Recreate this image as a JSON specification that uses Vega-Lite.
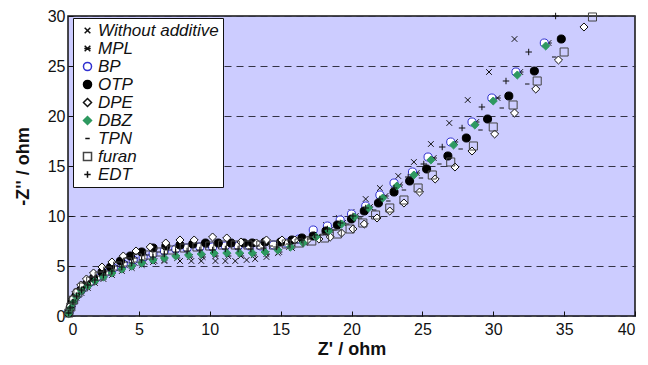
{
  "$schema": "https://vega.github.io/schema/vega-lite/v6.json",
  "width": 567,
  "height": 300,
  "autosize": {"type": "none"},
  "padding": {"left": 68, "top": 16, "right": 13, "bottom": 49},
  "background": "white",
  "config": {
    "font": "Liberation Sans",
    "view": {"fill": "#ccccff", "stroke": "#111111", "strokeWidth": 1.5},
    "axis": {"labelFont": "Liberation Sans", "titleFont": "Liberation Sans", "labelColor": "#111", "titleColor": "#111", "labelFontSize": 16, "titleFontSize": 18, "titleFontWeight": "bold", "domain": false, "tickColor": "#111"}
  },
  "data": {"values": [
    {"s":"Without additive","x":0.05,"y":0.2},{"s":"Without additive","x":0.1,"y":0.6},{"s":"Without additive","x":0.2,"y":1.0},{"s":"Without additive","x":0.35,"y":1.5},{"s":"Without additive","x":0.55,"y":2.0},{"s":"Without additive","x":0.8,"y":2.5},{"s":"Without additive","x":1.1,"y":3.0},{"s":"Without additive","x":1.5,"y":3.5},{"s":"Without additive","x":2.0,"y":4.0},{"s":"Without additive","x":2.6,"y":4.4},{"s":"Without additive","x":3.3,"y":4.8},{"s":"Without additive","x":4.0,"y":5.1},{"s":"Without additive","x":4.7,"y":5.3},{"s":"Without additive","x":5.4,"y":5.4},{"s":"Without additive","x":6.1,"y":5.5},{"s":"Without additive","x":6.8,"y":5.5},{"s":"Without additive","x":7.9,"y":5.5},{"s":"Without additive","x":8.7,"y":5.5},{"s":"Without additive","x":9.4,"y":5.5},{"s":"Without additive","x":10.4,"y":5.5},{"s":"Without additive","x":11.1,"y":5.5},{"s":"Without additive","x":11.8,"y":5.5},{"s":"Without additive","x":12.6,"y":5.6},{"s":"Without additive","x":13.2,"y":5.7},{"s":"Without additive","x":14.0,"y":5.9},{"s":"Without additive","x":14.8,"y":6.3},{"s":"Without additive","x":15.6,"y":6.9},{"s":"Without additive","x":16.4,"y":7.6},{"s":"Without additive","x":17.3,"y":8.4},{"s":"Without additive","x":18.2,"y":9.1},{"s":"Without additive","x":19.1,"y":9.8},{"s":"Without additive","x":20.0,"y":10.4},{"s":"Without additive","x":21.0,"y":11.7},{"s":"Without additive","x":22.0,"y":12.8},{"s":"Without additive","x":23.3,"y":14.0},{"s":"Without additive","x":24.4,"y":15.4},{"s":"Without additive","x":25.6,"y":17.2},{"s":"Without additive","x":26.9,"y":19.3},{"s":"Without additive","x":28.2,"y":21.6},{"s":"Without additive","x":29.7,"y":24.4},{"s":"Without additive","x":31.5,"y":27.7},
    {"s":"MPL","x":0.05,"y":0.2},{"s":"MPL","x":0.15,"y":0.6},{"s":"MPL","x":0.35,"y":1.2},{"s":"MPL","x":0.6,"y":1.8},{"s":"MPL","x":0.95,"y":2.3},{"s":"MPL","x":1.4,"y":2.8},{"s":"MPL","x":1.9,"y":3.3},{"s":"MPL","x":2.5,"y":3.7},{"s":"MPL","x":3.1,"y":4.1},{"s":"MPL","x":3.8,"y":4.5},{"s":"MPL","x":4.5,"y":4.8},{"s":"MPL","x":5.2,"y":5.1},{"s":"MPL","x":6.0,"y":5.4},{"s":"MPL","x":6.8,"y":5.6},{"s":"MPL","x":7.7,"y":5.8},{"s":"MPL","x":8.6,"y":5.9},{"s":"MPL","x":9.5,"y":5.9},{"s":"MPL","x":10.4,"y":6.0},{"s":"MPL","x":11.3,"y":6.0},{"s":"MPL","x":12.2,"y":6.0},{"s":"MPL","x":13.1,"y":6.1},{"s":"MPL","x":14.0,"y":6.2},{"s":"MPL","x":14.9,"y":6.4},{"s":"MPL","x":15.8,"y":6.8},{"s":"MPL","x":16.7,"y":7.3},{"s":"MPL","x":17.6,"y":7.9},{"s":"MPL","x":18.5,"y":8.6},{"s":"MPL","x":19.4,"y":9.3},{"s":"MPL","x":20.3,"y":10.0},{"s":"MPL","x":21.3,"y":10.9},{"s":"MPL","x":22.4,"y":12.0},{"s":"MPL","x":23.4,"y":13.1},{"s":"MPL","x":24.6,"y":14.3},{"s":"MPL","x":25.8,"y":15.8},{"s":"MPL","x":27.3,"y":17.4},{"s":"MPL","x":28.8,"y":19.4},{"s":"MPL","x":30.3,"y":21.8},{"s":"MPL","x":31.9,"y":24.4},{"s":"MPL","x":33.9,"y":27.3},
    {"s":"BP","x":0.08,"y":0.4},{"s":"BP","x":0.2,"y":0.9},{"s":"BP","x":0.4,"y":1.5},{"s":"BP","x":0.65,"y":2.1},{"s":"BP","x":1.0,"y":2.7},{"s":"BP","x":1.5,"y":3.3},{"s":"BP","x":2.0,"y":3.8},{"s":"BP","x":2.6,"y":4.3},{"s":"BP","x":3.2,"y":4.8},{"s":"BP","x":3.9,"y":5.2},{"s":"BP","x":4.6,"y":5.6},{"s":"BP","x":5.3,"y":5.9},{"s":"BP","x":6.0,"y":6.2},{"s":"BP","x":6.8,"y":6.5},{"s":"BP","x":7.6,"y":6.7},{"s":"BP","x":8.4,"y":6.8},{"s":"BP","x":9.3,"y":6.9},{"s":"BP","x":10.2,"y":6.9},{"s":"BP","x":11.1,"y":7.0},{"s":"BP","x":12.0,"y":7.0},{"s":"BP","x":12.8,"y":7.0},{"s":"BP","x":13.6,"y":7.0},{"s":"BP","x":14.5,"y":7.1},{"s":"BP","x":15.4,"y":7.3},{"s":"BP","x":16.3,"y":7.7},{"s":"BP","x":17.3,"y":8.6},{"s":"BP","x":18.3,"y":9.0},{"s":"BP","x":19.2,"y":9.6},{"s":"BP","x":20.0,"y":10.2},{"s":"BP","x":21.0,"y":11.0},{"s":"BP","x":22.0,"y":12.1},{"s":"BP","x":23.0,"y":13.3},{"s":"BP","x":24.3,"y":14.4},{"s":"BP","x":25.4,"y":15.9},{"s":"BP","x":27.0,"y":17.4},{"s":"BP","x":28.5,"y":19.4},{"s":"BP","x":29.9,"y":21.8},{"s":"BP","x":31.6,"y":24.4},{"s":"BP","x":33.6,"y":27.3},
    {"s":"OTP","x":0.05,"y":0.3},{"s":"OTP","x":0.15,"y":0.8},{"s":"OTP","x":0.3,"y":1.4},{"s":"OTP","x":0.55,"y":2.0},{"s":"OTP","x":0.9,"y":2.6},{"s":"OTP","x":1.3,"y":3.2},{"s":"OTP","x":1.8,"y":3.8},{"s":"OTP","x":2.4,"y":4.4},{"s":"OTP","x":3.0,"y":4.9},{"s":"OTP","x":3.7,"y":5.5},{"s":"OTP","x":4.4,"y":6.0},{"s":"OTP","x":5.2,"y":6.4},{"s":"OTP","x":6.0,"y":6.8},{"s":"OTP","x":6.9,"y":7.0},{"s":"OTP","x":7.9,"y":7.1},{"s":"OTP","x":8.8,"y":7.2},{"s":"OTP","x":9.7,"y":7.3},{"s":"OTP","x":10.6,"y":7.3},{"s":"OTP","x":11.5,"y":7.3},{"s":"OTP","x":12.4,"y":7.3},{"s":"OTP","x":13.0,"y":7.3},{"s":"OTP","x":13.9,"y":7.4},{"s":"OTP","x":15.0,"y":7.4},{"s":"OTP","x":15.8,"y":7.6},{"s":"OTP","x":16.5,"y":7.8},{"s":"OTP","x":17.3,"y":8.0},{"s":"OTP","x":18.2,"y":8.5},{"s":"OTP","x":19.0,"y":9.1},{"s":"OTP","x":20.0,"y":9.7},{"s":"OTP","x":20.9,"y":10.5},{"s":"OTP","x":21.9,"y":11.3},{"s":"OTP","x":23.0,"y":12.4},{"s":"OTP","x":24.1,"y":13.5},{"s":"OTP","x":25.3,"y":14.7},{"s":"OTP","x":26.8,"y":16.0},{"s":"OTP","x":28.1,"y":17.8},{"s":"OTP","x":29.6,"y":19.7},{"s":"OTP","x":31.1,"y":22.0},{"s":"OTP","x":32.9,"y":24.5},{"s":"OTP","x":34.8,"y":27.7},
    {"s":"DPE","x":0.05,"y":0.4},{"s":"DPE","x":0.15,"y":1.0},{"s":"DPE","x":0.3,"y":1.7},{"s":"DPE","x":0.55,"y":2.4},{"s":"DPE","x":0.9,"y":3.1},{"s":"DPE","x":1.3,"y":3.7},{"s":"DPE","x":1.8,"y":4.3},{"s":"DPE","x":2.4,"y":4.9},{"s":"DPE","x":3.1,"y":5.4},{"s":"DPE","x":3.9,"y":6.0},{"s":"DPE","x":4.8,"y":6.5},{"s":"DPE","x":5.8,"y":6.9},{"s":"DPE","x":6.9,"y":7.3},{"s":"DPE","x":7.9,"y":7.6},{"s":"DPE","x":8.9,"y":7.6},{"s":"DPE","x":10.2,"y":7.9},{"s":"DPE","x":11.2,"y":7.8},{"s":"DPE","x":12.2,"y":7.4},{"s":"DPE","x":13.3,"y":7.3},{"s":"DPE","x":14.0,"y":7.6},{"s":"DPE","x":15.1,"y":7.6},{"s":"DPE","x":16.0,"y":7.6},{"s":"DPE","x":16.9,"y":7.6},{"s":"DPE","x":17.7,"y":7.7},{"s":"DPE","x":18.5,"y":7.9},{"s":"DPE","x":19.3,"y":8.3},{"s":"DPE","x":20.1,"y":8.7},{"s":"DPE","x":20.9,"y":9.2},{"s":"DPE","x":21.8,"y":9.8},{"s":"DPE","x":22.7,"y":10.5},{"s":"DPE","x":23.7,"y":11.3},{"s":"DPE","x":24.8,"y":12.4},{"s":"DPE","x":25.9,"y":13.7},{"s":"DPE","x":27.3,"y":14.9},{"s":"DPE","x":28.5,"y":16.5},{"s":"DPE","x":30.1,"y":18.2},{"s":"DPE","x":31.5,"y":20.3},{"s":"DPE","x":33.0,"y":22.7},{"s":"DPE","x":34.6,"y":25.6},{"s":"DPE","x":36.4,"y":28.9},
    {"s":"DBZ","x":0.05,"y":0.25},{"s":"DBZ","x":0.15,"y":0.7},{"s":"DBZ","x":0.35,"y":1.3},{"s":"DBZ","x":0.6,"y":1.9},{"s":"DBZ","x":0.95,"y":2.5},{"s":"DBZ","x":1.4,"y":3.0},{"s":"DBZ","x":1.9,"y":3.5},{"s":"DBZ","x":2.5,"y":3.9},{"s":"DBZ","x":3.1,"y":4.3},{"s":"DBZ","x":3.8,"y":4.7},{"s":"DBZ","x":4.5,"y":5.0},{"s":"DBZ","x":5.2,"y":5.3},{"s":"DBZ","x":6.0,"y":5.6},{"s":"DBZ","x":6.8,"y":5.8},{"s":"DBZ","x":7.6,"y":6.0},{"s":"DBZ","x":8.5,"y":6.1},{"s":"DBZ","x":9.4,"y":6.2},{"s":"DBZ","x":10.3,"y":6.3},{"s":"DBZ","x":11.2,"y":6.3},{"s":"DBZ","x":12.1,"y":6.3},{"s":"DBZ","x":13.0,"y":6.3},{"s":"DBZ","x":13.9,"y":6.4},{"s":"DBZ","x":14.8,"y":6.6},{"s":"DBZ","x":15.7,"y":6.9},{"s":"DBZ","x":16.6,"y":7.3},{"s":"DBZ","x":17.5,"y":7.9},{"s":"DBZ","x":18.4,"y":8.5},{"s":"DBZ","x":19.3,"y":9.2},{"s":"DBZ","x":20.2,"y":9.9},{"s":"DBZ","x":21.2,"y":10.8},{"s":"DBZ","x":22.2,"y":11.8},{"s":"DBZ","x":23.2,"y":13.0},{"s":"DBZ","x":24.4,"y":14.1},{"s":"DBZ","x":25.6,"y":15.6},{"s":"DBZ","x":27.2,"y":17.1},{"s":"DBZ","x":28.7,"y":19.1},{"s":"DBZ","x":30.0,"y":21.5},{"s":"DBZ","x":31.7,"y":24.1},{"s":"DBZ","x":33.7,"y":27.0},
    {"s":"TPN","x":0.06,"y":0.3},{"s":"TPN","x":0.2,"y":0.9},{"s":"TPN","x":0.4,"y":1.6},{"s":"TPN","x":0.7,"y":2.3},{"s":"TPN","x":1.1,"y":2.9},{"s":"TPN","x":1.6,"y":3.5},{"s":"TPN","x":2.1,"y":4.0},{"s":"TPN","x":2.7,"y":4.5},{"s":"TPN","x":3.4,"y":5.0},{"s":"TPN","x":4.1,"y":5.4},{"s":"TPN","x":4.8,"y":5.8},{"s":"TPN","x":5.6,"y":6.1},{"s":"TPN","x":6.4,"y":6.4},{"s":"TPN","x":7.2,"y":6.6},{"s":"TPN","x":8.0,"y":6.8},{"s":"TPN","x":8.9,"y":6.9},{"s":"TPN","x":9.8,"y":6.9},{"s":"TPN","x":10.7,"y":7.0},{"s":"TPN","x":11.6,"y":7.0},{"s":"TPN","x":12.5,"y":7.0},{"s":"TPN","x":13.4,"y":7.0},{"s":"TPN","x":14.3,"y":7.0},{"s":"TPN","x":15.2,"y":7.1},{"s":"TPN","x":16.1,"y":7.3},{"s":"TPN","x":17.0,"y":7.7},{"s":"TPN","x":17.9,"y":8.1},{"s":"TPN","x":18.8,"y":8.6},{"s":"TPN","x":19.7,"y":9.2},{"s":"TPN","x":20.6,"y":9.8},{"s":"TPN","x":21.6,"y":10.6},{"s":"TPN","x":22.6,"y":11.5},{"s":"TPN","x":23.7,"y":12.6},{"s":"TPN","x":24.9,"y":13.8},{"s":"TPN","x":26.2,"y":15.2},{"s":"TPN","x":27.7,"y":16.7},{"s":"TPN","x":29.1,"y":18.6},{"s":"TPN","x":30.6,"y":20.8},{"s":"TPN","x":32.4,"y":23.2},{"s":"TPN","x":34.3,"y":25.9},
    {"s":"furan","x":0.06,"y":0.3},{"s":"furan","x":0.2,"y":0.9},{"s":"furan","x":0.4,"y":1.6},{"s":"furan","x":0.7,"y":2.3},{"s":"furan","x":1.1,"y":2.9},{"s":"furan","x":1.6,"y":3.5},{"s":"furan","x":2.2,"y":4.0},{"s":"furan","x":2.8,"y":4.5},{"s":"furan","x":3.5,"y":5.0},{"s":"furan","x":4.2,"y":5.4},{"s":"furan","x":4.9,"y":5.8},{"s":"furan","x":5.7,"y":6.1},{"s":"furan","x":6.5,"y":6.4},{"s":"furan","x":7.3,"y":6.6},{"s":"furan","x":8.2,"y":6.8},{"s":"furan","x":9.1,"y":6.9},{"s":"furan","x":10.0,"y":7.0},{"s":"furan","x":10.9,"y":7.1},{"s":"furan","x":11.8,"y":7.1},{"s":"furan","x":12.7,"y":7.1},{"s":"furan","x":13.6,"y":7.1},{"s":"furan","x":14.5,"y":7.1},{"s":"furan","x":15.4,"y":7.2},{"s":"furan","x":16.3,"y":7.3},{"s":"furan","x":17.2,"y":7.5},{"s":"furan","x":18.1,"y":7.8},{"s":"furan","x":19.0,"y":8.2},{"s":"furan","x":19.9,"y":8.7},{"s":"furan","x":20.8,"y":9.3},{"s":"furan","x":21.7,"y":10.1},{"s":"furan","x":22.7,"y":10.8},{"s":"furan","x":23.7,"y":11.6},{"s":"furan","x":24.7,"y":12.8},{"s":"furan","x":25.7,"y":14.1},{"s":"furan","x":27.0,"y":15.4},{"s":"furan","x":28.6,"y":17.0},{"s":"furan","x":30.0,"y":18.9},{"s":"furan","x":31.4,"y":21.1},{"s":"furan","x":33.1,"y":23.5},{"s":"furan","x":35.0,"y":26.4},{"s":"furan","x":37.0,"y":29.9},
    {"s":"EDT","x":0.05,"y":0.3},{"s":"EDT","x":0.15,"y":0.8},{"s":"EDT","x":0.35,"y":1.4},{"s":"EDT","x":0.6,"y":2.0},{"s":"EDT","x":0.95,"y":2.6},{"s":"EDT","x":1.4,"y":3.1},{"s":"EDT","x":1.9,"y":3.6},{"s":"EDT","x":2.5,"y":4.1},{"s":"EDT","x":3.1,"y":4.5},{"s":"EDT","x":3.8,"y":4.9},{"s":"EDT","x":4.5,"y":5.3},{"s":"EDT","x":5.2,"y":5.6},{"s":"EDT","x":6.0,"y":5.9},{"s":"EDT","x":6.8,"y":6.2},{"s":"EDT","x":7.6,"y":6.4},{"s":"EDT","x":8.4,"y":6.5},{"s":"EDT","x":9.3,"y":6.6},{"s":"EDT","x":10.2,"y":6.6},{"s":"EDT","x":11.1,"y":6.7},{"s":"EDT","x":12.0,"y":6.7},{"s":"EDT","x":12.9,"y":6.7},{"s":"EDT","x":13.8,"y":6.8},{"s":"EDT","x":14.7,"y":6.9},{"s":"EDT","x":15.6,"y":7.2},{"s":"EDT","x":16.5,"y":7.6},{"s":"EDT","x":17.4,"y":8.1},{"s":"EDT","x":18.3,"y":8.7},{"s":"EDT","x":19.2,"y":9.3},{"s":"EDT","x":20.1,"y":10.0},{"s":"EDT","x":21.0,"y":10.8},{"s":"EDT","x":22.0,"y":11.7},{"s":"EDT","x":23.0,"y":12.8},{"s":"EDT","x":24.0,"y":13.9},{"s":"EDT","x":25.1,"y":15.2},{"s":"EDT","x":26.4,"y":16.9},{"s":"EDT","x":27.8,"y":18.8},{"s":"EDT","x":29.2,"y":20.9},{"s":"EDT","x":30.9,"y":23.5},{"s":"EDT","x":32.5,"y":26.4},{"s":"EDT","x":34.4,"y":30.0}
  ]},
  "mark": {"type": "point", "strokeWidth": 1, "opacity": 1, "clip": false},
  "encoding": {
    "x": {"field": "x", "type": "quantitative", "scale": {"domain": [0, 40], "nice": false}, "title": "Z' / ohm",
      "axis": {"values": [0,5,10,15,20,25,30,35,40], "format": "d", "grid": false, "tickSize": -5, "labelPadding": 10, "titlePadding": 3}},
    "y": {"field": "y", "type": "quantitative", "scale": {"domain": [0, 30], "nice": false}, "title": "-Z'' / ohm",
      "axis": {"values": [0,5,10,15,20,25,30], "format": "d", "grid": true, "gridDash": [7, 5], "gridColor": "#333344", "gridWidth": 1, "tickSize": -5, "labelPadding": 8, "titlePadding": 15}},
    "shape": {"field": "s", "type": "nominal", "title": null,
      "scale": {"domain": ["Without additive","MPL","BP","OTP","DPE","DBZ","TPN","furan","EDT"],
        "range": ["M-0.7,-0.7L0.7,0.7M-0.7,0.7L0.7,-0.7", "M-0.7,-0.7L0.7,0.7M-0.7,0.7L0.7,-0.7M-0.8,0L0.8,0", "circle", "circle", "diamond", "diamond", "M-0.55,0L0.55,0", "square", "M-0.8,0L0.8,0M0,-0.8L0,0.8"]},
      "legend": {"orient": "none", "legendX": 5, "legendY": 2, "fillColor": "white", "strokeColor": "#111", "padding": 4, "labelFontSize": 17, "labelFontStyle": "italic", "labelFont": "Liberation Sans", "labelColor": "#111", "rowPadding": 0, "symbolOffset": 2, "labelOffset": 2}},
    "fill": {"field": "s", "type": "nominal", "title": null,
      "scale": {"domain": ["Without additive","MPL","BP","OTP","DPE","DBZ","TPN","furan","EDT"],
        "range": ["transparent","transparent","white","#000000","white","#2e9960","transparent","transparent","transparent"]}},
    "stroke": {"field": "s", "type": "nominal", "title": null,
      "scale": {"domain": ["Without additive","MPL","BP","OTP","DPE","DBZ","TPN","furan","EDT"],
        "range": ["#111111","#111111","#3030d0","#000000","#111111","#2e9960","#111111","#444444","#111111"]}},
    "size": {"field": "s", "type": "nominal", "title": null,
      "scale": {"domain": ["Without additive","MPL","BP","OTP","DPE","DBZ","TPN","furan","EDT"],
        "range": [65, 65, 50, 50, 60, 32, 45, 45, 60]}}
  }
}
